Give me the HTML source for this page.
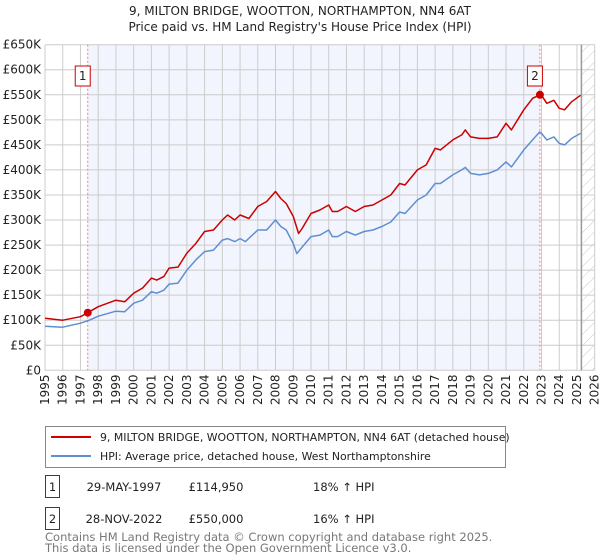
<!DOCTYPE html>
<html><head><meta charset="utf-8">
<style>
body{margin:0;background:#fff;font-family:"Liberation Sans","DejaVu Sans",sans-serif;}
#wrap{position:relative;width:600px;height:560px;overflow:hidden;}
svg text{font-family:"DejaVu Sans","Liberation Sans",sans-serif;}
</style></head>
<body>
<div id="wrap">
<svg id="chart" width="600" height="560"></svg>
</div>
<script>
const years=[1995,1996,1997,1998,1999,2000,2001,2002,2003,2004,2005,2006,2007,2008,2009,2010,2011,2012,2013,2014,2015,2016,2017,2018,2019,2020,2021,2022,2023,2024,2025,2026];
const yTicks=[0,50,100,150,200,250,300,350,400,450,500,550,600,650];
const yTickLabels=["£0","£50K","£100K","£150K","£200K","£250K","£300K","£350K","£400K","£450K","£500K","£550K","£600K","£650K"];
const redT=[1995,1996,1997,1997.41,1998,1999,1999.5,2000,2000.5,2001,2001.3,2001.7,2002,2002.5,2003,2003.5,2004,2004.5,2005,2005.3,2005.7,2006,2006.5,2007,2007.3,2007.5,2008,2008.3,2008.6,2009,2009.3,2009.5,2010,2010.5,2011,2011.2,2011.5,2012,2012.5,2013,2013.5,2014,2014.5,2015,2015.3,2016,2016.5,2017,2017.3,2018,2018.5,2018.7,2019,2019.5,2020,2020.5,2021,2021.3,2022,2022.5,2022.91,2023,2023.3,2023.7,2024,2024.3,2024.7,2025.2];
const redV=[104,100,107,114.95,127,140,137,154,164,184,180,187,204,206,234,253,277,280,300,310,300,310,303,327,333,337,357,343,333,307,273,283,313,320,330,317,317,327,317,327,330,340,350,373,370,400,410,443,440,460,470,480,466,463,463,466,493,480,520,543,550,549,533,539,523,520,536,549];
const blueT=[1995,1996,1997,1997.5,1998,1999,1999.5,2000,2000.5,2001,2001.3,2001.7,2002,2002.5,2003,2003.5,2004,2004.5,2005,2005.3,2005.7,2006,2006.3,2007,2007.5,2008,2008.3,2008.6,2009,2009.2,2009.5,2010,2010.5,2011,2011.2,2011.5,2012,2012.5,2013,2013.5,2014,2014.5,2015,2015.3,2016,2016.5,2017,2017.3,2018,2018.5,2018.7,2019,2019.5,2020,2020.5,2021,2021.3,2022,2022.5,2022.9,2023,2023.3,2023.7,2024,2024.3,2024.7,2025.2];
const blueV=[88,86,94,100,108,118,117,134,140,157,154,160,172,174,200,220,237,240,260,263,257,263,257,280,280,300,287,280,253,233,246,267,270,280,267,267,277,270,277,280,287,296,316,313,340,350,373,373,390,400,405,393,390,393,400,416,406,440,460,476,473,460,466,453,450,463,473];
const saleT=[1997.41,2022.91];
const saleV=[114.95,550];
const saleLabels=["1","2"];

const NS="http://www.w3.org/2000/svg";
const svg=document.getElementById('chart');
const L=45,R=594.7,T=44.7,B=370.3;
const X=t=>L+(t-1995)/(2026-1995)*(R-L);
const Y=v=>B-v/650*(B-T);
function mk(tag,attrs,parent){const e=document.createElementNS(NS,tag);for(const k in attrs)e.setAttribute(k,attrs[k]);(parent||svg).appendChild(e);return e;}

const defs=mk('defs',{});
const pat=mk('pattern',{id:'hatch',width:8,height:8,patternUnits:'userSpaceOnUse',patternTransform:'rotate(45)'},defs);
mk('line',{x1:0,y1:0,x2:0,y2:8,stroke:'#c8c8c8','stroke-width':1},pat);

let t1=mk('text',{x:300,y:15,'text-anchor':'middle','font-size':12,fill:'#222'});t1.textContent="9, MILTON BRIDGE, WOOTTON, NORTHAMPTON, NN4 6AT";

let t2=mk('text',{x:300,y:31,'text-anchor':'middle','font-size':12,fill:'#222'});t2.textContent="Price paid vs. HM Land Registry's House Price Index (HPI)";


let sh=mk('rect',{x:X(saleT[0]),y:T,width:X(saleT[1])-X(saleT[0]),height:B-T,fill:'#f2f5fd'});

let hx=X(2025.25);
let hr=mk('rect',{x:hx,y:T,width:R-hx,height:B-T,fill:'url(#hatch)'});


years.forEach(y=>{const g=mk('line',{x1:X(y),x2:X(y),y1:T,y2:B,stroke:'#cccccc','stroke-width':1});

const tx=mk('text',{transform:`translate(${X(y)+4},405) rotate(-90)`,'font-size':12,fill:'#222'});tx.textContent=y;
});
yTicks.forEach((v,i)=>{const g=mk('line',{x1:L,x2:R,y1:Y(v),y2:Y(v),stroke:'#cccccc','stroke-width':1});

const tx=mk('text',{x:41,y:Y(v)+4,'text-anchor':'end','font-size':12,fill:'#222'});tx.textContent=yTickLabels[i];
});
let nl=mk('line',{x1:hx,x2:hx,y1:T,y2:B,stroke:'#999','stroke-width':1.5});


saleT.forEach(t=>{const l=mk('line',{x1:X(t),x2:X(t),y1:T,y2:B,stroke:'#f08080','stroke-width':1,'stroke-dasharray':'2,2'});
});

function path(ts,vs,color,name){const d=ts.map((t,i)=>(i?'L':'M')+X(t).toFixed(1)+','+Y(vs[i]).toFixed(1)).join('');
const p=mk('path',{d:d,fill:'none',stroke:color,'stroke-width':1.5,'stroke-linejoin':'round'});
}
path(blueT,blueV,'#5f8fd0','hpi-line');
path(redT,redV,'#cc0000','property-price-line');

saleT.forEach((t,i)=>{const c=mk('circle',{cx:X(t),cy:Y(saleV[i]),r:4,fill:'#cc0000'});

const bx=X(t)-7.5-3, by=66;
const r=mk('rect',{x:bx-5+3,y:by,width:15,height:20,fill:'#fff',stroke:'#cc0000','stroke-width':1});

const tx=mk('text',{x:bx+5.5,y:by+14,'text-anchor':'middle','font-size':12,fill:'#222'});tx.textContent=saleLabels[i];
});

let lg=mk('g',{});
mk('rect',{x:45.5,y:426.5,width:460,height:41,fill:'#fff',stroke:'#888','stroke-width':1},lg);
mk('line',{x1:51,x2:91,y1:437,y2:437,stroke:'#cc0000','stroke-width':2},lg);
mk('line',{x1:51,x2:91,y1:456,y2:456,stroke:'#5f8fd0','stroke-width':2},lg);
let l1=mk('text',{x:100,y:441,'font-size':10.9,fill:'#222'},lg);l1.textContent="9, MILTON BRIDGE, WOOTTON, NORTHAMPTON, NN4 6AT (detached house)";

let l2=mk('text',{x:100,y:460,'font-size':10.9,fill:'#222'},lg);l2.textContent="HPI: Average price, detached house, West Northamptonshire";


const rows=[["1","29-MAY-1997","£114,950","18% ↑ HPI"],["2","28-NOV-2022","£550,000","16% ↑ HPI"]];
rows.forEach((r,i)=>{const y=475+i*32;
const b=mk('rect',{x:45.5,y:y+0.5,width:14,height:22,fill:'#fff',stroke:'#cc0000','stroke-width':1});

const cells=[[52.5,'middle',r[0]],[124,'middle',r[1]],[216,'middle',r[2]],[313,'start',r[3]]];
cells.forEach(c=>{const tx=mk('text',{x:c[0],y:y+16,'text-anchor':c[1],'font-size':11.5,fill:'#222'});tx.textContent=c[2];
});});

let f1=mk('text',{x:45,y:541,'font-size':11.5,fill:'#777'});f1.textContent="Contains HM Land Registry data © Crown copyright and database right 2025.";

let f2=mk('text',{x:45,y:552,'font-size':11.5,fill:'#777'});f2.textContent="This data is licensed under the Open Government Licence v3.0.";

</script>
</body></html>
